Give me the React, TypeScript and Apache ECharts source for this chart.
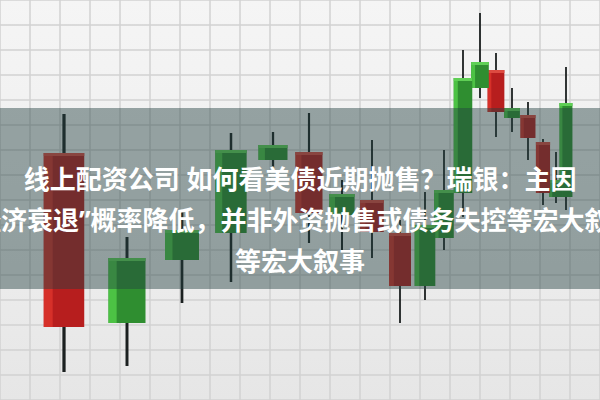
import React, { useEffect, useRef } from "react";
import * as echarts from "echarts";

// Candles, left (near) to right (far)
const sessions = [6.4, 12.7, 18.2, 23.1, 27.3, 30.9, 34.2, 37.2, 40.0, 42.5, 44.4, 46.3, 48.0, 49.6, 51.2, 52.8, 54.3, 55.6, 56.6];
const opens = [61.75, 19.25, 35, 41.75, 60, 62, 46.25, 50, 41.75, 28.5, 40.5, 51.75, 78, 82.5, 70.5, 71.25, 64.5, 50.75, 50.75];
const closes = [18.25, 35.5, 42.5, 62.5, 63.75, 46.75, 51.5, 42, 28.5, 43.75, 52.5, 80.5, 84.5, 72, 73, 65.5, 51.75, 55, 74.25];
const lows = [7, 8.5, 24.25, 29.5, 57.5, 39.25, 37.5, 35.5, 19.25, 25, 37.5, 45.75, 75.5, 65.75, 67, 60, 48.75, 49.25, 47.5];
const highs = [71.5, 40.75, 47.5, 66.75, 67, 71.75, 55, 65, 45, 52, 62.5, 87.5, 96.75, 86.75, 78, 74.5, 65.25, 62, 83.25];

const titleLines = [
  "线上配资公司 如何看美债近期抛售？瑞银：主因",
  "“经济衰退”概率降低，并非外资抛售或债务失控等宏大叙事",
  "等宏大叙事",
];

export default function App() {
  const ref = useRef<HTMLDivElement>(null);
  useEffect(() => {
    document.body.style.margin = "0";
    const chart = echarts.init(ref.current!, null, { renderer: "svg" });
    const data = sessions
      .map((s, i) => [s, opens[i], closes[i], lows[i], highs[i]])
      .reverse(); // draw far candles first
    const font = 'bold 26px "Noto Sans", "Noto Sans CJK SC", sans-serif';
    chart.setOption({
      animation: false,
      grid: { left: 0, right: 0, top: 0, bottom: 0 },
      xAxis: {
        type: "value",
        min: 0,
        max: 60,
        interval: 3,
        axisLine: { show: false },
        axisTick: { show: false },
        axisLabel: { show: false },
        splitLine: { show: true, lineStyle: { color: "#d2d2d2", width: 1.5 } },
      },
      yAxis: {
        type: "value",
        min: 0,
        max: 100,
        interval: 6.25,
        axisLine: { show: false },
        axisTick: { show: false },
        axisLabel: { show: false },
        splitLine: { show: true, lineStyle: { color: "#d2d2d2", width: 1.5 } },
      },
      series: [
        {
          type: "custom",
          data,
          renderItem: (params: any, api: any) => {
            const x = api.value(0);
            const open = api.value(1);
            const close = api.value(2);
            const low = api.value(3);
            const high = api.value(4);
            const [cx, yOpen] = api.coord([x, open]);
            const yClose = api.coord([x, close])[1];
            const yLow = api.coord([x, low])[1];
            const yHigh = api.coord([x, high])[1];
            const w = Math.max(10, 44 - 0.055 * cx);
            const rising = close > open;
            const top = Math.min(yOpen, yClose);
            const bot = Math.max(yOpen, yClose);
            const base = rising ? "#2f8e30" : "#b71e1e";
            const light = rising ? "#4cc244" : "#d63029";
            const cap = rising ? "#5fcf55" : "#dd4a40";
            const wickW = Math.max(1.8, w * 0.08);
            return {
              type: "group",
              children: [
                {
                  type: "rect",
                  shape: { x: cx - wickW / 2, y: yHigh, width: wickW, height: yLow - yHigh },
                  style: { fill: "#1b2020" },
                },
                {
                  type: "rect",
                  shape: { x: cx - w / 2, y: top, width: w, height: bot - top },
                  style: { fill: base },
                },
                {
                  type: "rect",
                  shape: { x: cx - w / 2, y: top, width: w * 0.22, height: bot - top },
                  style: { fill: light },
                },
                {
                  type: "rect",
                  shape: { x: cx - w / 2, y: top, width: w, height: Math.min(3, bot - top) },
                  style: { fill: cap },
                },
              ],
            };
          },
        },
      ],
      graphic: [
        {
          type: "rect",
          left: 0,
          top: 108,
          z: 100,
          shape: { width: 600, height: 181 },
          style: { fill: "rgba(36,65,65,0.45)" },
        },
        ...titleLines.map((t, i) => ({
          type: "text",
          x: 300,
          y: 179 + i * 41,
          z: 101,
          style: {
            text: t,
            fill: "#ffffff",
            font,
            align: "center",
            verticalAlign: "middle",
          },
        })),
      ],
    });
    return () => chart.dispose();
  }, []);
  return (
    <div
      ref={ref}
      style={{
        width: 600,
        height: 400,
        background: "linear-gradient(180deg, #f5f5f5 0%, #eeeeee 55%, #e6e6e6 100%)",
      }}
    />
  );
}
